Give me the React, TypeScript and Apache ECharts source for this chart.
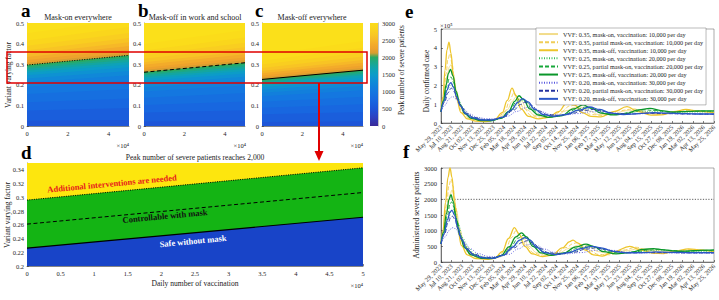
import React, { useEffect, useRef } from 'react';
import * as echarts from 'echarts';

// ---------- tick labels ----------
const dateLabels = ['May 29, 2023','Jul 10, 2023','Aug 21, 2023','Oct 02, 2023','Nov 13, 2023','Dec 25, 2023','Feb 05, 2024','Mar 18, 2024','Apr 29, 2024','Jun 10, 2024','Jul 22, 2024','Sep 02, 2024','Oct 14, 2024','Nov 25, 2024','Jan 06, 2025','Feb 17, 2025','Mar 31, 2025','May 12, 2025','Jun 23, 2025','Aug 04, 2025','Sep 15, 2025','Oct 27, 2025','Dec 08, 2025','Jan 19, 2026','Mar 02, 2026','Apr 13, 2026','May 25, 2026'];
const dayStep = 42;
const dayMax = 1092;

// ---------- heat map panels a-c (vaccination x 10^4 vs VVF) ----------
const vaccX = [0, 5];
const vvfMax = 0.5;
const cmapValues = [0, 250, 500, 625, 750, 875, 1000, 1125, 1250, 1375, 1500, 1625, 1750, 1875, 2000, 2125, 2250, 2375, 2500, 2625, 2750, 2875, 3000];
const cmapColors = ['#3b2a98','#2e40c0','#1d55d8','#1a5edc','#1867e0','#166fe0','#1477e0','#127fdc','#1088d8','#0e92d2','#0c9cc8','#0ea2b8','#14a6a0','#1ea884','#2aaa62','#d89e30','#eea22c','#f3ab2a','#f6b828','#f8c424','#f9ce20','#fad61c','#fbdc1a'];
const topColor = '#fbe01a';
// VVF where peak severe patients reaches each level 500..3000 (step 125), at 0 and 5x10^4 vaccinations
const aContour0 = [0.025,0.075,0.115,0.155,0.19,0.212,0.23,0.246,0.258,0.268,0.278,0.287,0.296,0.307,0.32,0.335,0.35,0.368,0.39,0.415,0.45];
const aContour5 = [0.029,0.087,0.133,0.18,0.22,0.246,0.267,0.285,0.299,0.311,0.322,0.333,0.343,0.356,0.371,0.388,0.406,0.427,0.452,0.481,0.52];
const bContour0 = [0.022,0.066,0.102,0.137,0.168,0.188,0.204,0.218,0.228,0.237,0.246,0.254,0.262,0.272,0.283,0.297,0.31,0.326,0.345,0.367,0.398];
const bContour5 = [0.026,0.077,0.119,0.16,0.197,0.22,0.239,0.255,0.267,0.277,0.288,0.297,0.307,0.319,0.332,0.348,0.363,0.382,0.404,0.43,0.466];
const cContour0 = [0.019,0.057,0.088,0.118,0.145,0.162,0.176,0.188,0.197,0.205,0.212,0.219,0.226,0.235,0.245,0.256,0.267,0.281,0.298,0.317,0.344];
const cContour5 = [0.023,0.068,0.106,0.142,0.174,0.194,0.211,0.226,0.236,0.246,0.254,0.263,0.271,0.282,0.294,0.307,0.32,0.337,0.358,0.38,0.413];
const colorbarMax = 3000;

// ---------- panel d: 2,000 thresholds ----------
const maskOnLine = [0.296, 0.343];
const partialLine = [0.261, 0.307];
const maskOffLine = [0.226, 0.271];
const dTop = 0.35;

// ---------- panels e/f ----------
const seriesNames = [
  'VVF: 0.35, mask-on, vaccination: 10,000 per day',
  'VVF: 0.35, partial mask-on, vaccination: 10,000 per day',
  'VVF: 0.35, mask-off, vaccination: 10,000 per day',
  'VVF: 0.25, mask-on, vaccination: 20,000 per day',
  'VVF: 0.25, partial mask-on, vaccination: 20,000 per day',
  'VVF: 0.25, mask-off, vaccination: 20,000 per day',
  'VVF: 0.20, mask-on, vaccination: 30,000 per day',
  'VVF: 0.20, partial mask-on, vaccination: 30,000 per day',
  'VVF: 0.20, mask-off, vaccination: 30,000 per day',
];
// daily confirmed cases (x10^5), [day, value]
const caseY1 = [[0,0.6],[12,1.4],[24,2.5],[34,3.0],[40,3.1],[50,2.6],[62,1.7],[75,1.0],[92,0.55],[118,0.27],[160,0.14],[200,0.13],[235,0.28],[265,0.7],[285,1.15],[300,1.4],[320,1.2],[345,0.7],[375,0.4],[420,0.28],[460,0.38],[500,0.65],[540,0.85],[560,0.85],[590,0.65],[630,0.45],[680,0.45],[740,0.65],[790,0.68],[840,0.52],[900,0.48],[960,0.6],[1020,0.65],[1092,0.55]];
const caseY2 = [[0,0.6],[10,1.4],[20,2.6],[28,3.4],[36,3.7],[45,3.1],[55,2.0],[68,1.1],[85,0.55],[110,0.25],[150,0.12],[190,0.1],[225,0.22],[255,0.6],[275,1.2],[292,1.6],[310,1.3],[330,0.8],[360,0.4],[400,0.25],[440,0.32],[480,0.6],[515,0.9],[535,0.95],[560,0.75],[600,0.45],[650,0.4],[710,0.65],[770,0.75],[820,0.55],[880,0.45],[940,0.6],[1000,0.68],[1050,0.6],[1092,0.55]];
const caseY3 = [[0,0.6],[8,1.4],[16,2.8],[24,3.9],[32,4.3],[40,3.7],[50,2.4],[62,1.3],[80,0.55],[105,0.22],[140,0.1],[180,0.08],[215,0.18],[245,0.55],[265,1.2],[284,1.85],[300,1.45],[320,0.75],[350,0.35],[390,0.22],[430,0.3],[470,0.6],[500,1.0],[516,1.13],[535,0.95],[565,0.55],[600,0.35],[640,0.33],[690,0.6],[744,0.87],[790,0.6],[840,0.42],[880,0.43],[930,0.6],[980,0.72],[1030,0.62],[1092,0.55]];
const caseG1 = [[0,0.6],[14,1.2],[28,1.8],[38,2.02],[44,2.05],[55,1.8],[68,1.35],[85,0.85],[105,0.5],[135,0.28],[175,0.17],[215,0.17],[255,0.32],[285,0.68],[310,1.05],[325,1.2],[350,1.05],[380,0.68],[415,0.42],[460,0.35],[510,0.48],[560,0.7],[600,0.78],[640,0.66],[690,0.5],[740,0.5],[800,0.62],[860,0.62],[920,0.56],[990,0.58],[1092,0.6]];
const caseG2 = [[0,0.6],[12,1.2],[24,2.0],[34,2.4],[40,2.45],[50,2.15],[62,1.55],[78,0.95],[98,0.52],[125,0.27],[165,0.15],[205,0.14],[245,0.28],[275,0.65],[300,1.1],[318,1.35],[340,1.15],[365,0.72],[400,0.42],[440,0.32],[490,0.42],[540,0.72],[580,0.85],[615,0.72],[660,0.5],[710,0.46],[760,0.58],[810,0.7],[860,0.66],[920,0.57],[980,0.6],[1040,0.63],[1092,0.62]];
const caseG3 = [[0,0.6],[10,1.2],[20,2.0],[30,2.65],[38,2.85],[48,2.5],[60,1.7],[75,1.0],[95,0.5],[120,0.25],[160,0.13],[200,0.12],[240,0.25],[270,0.6],[295,1.15],[312,1.45],[330,1.25],[355,0.75],[390,0.42],[430,0.3],[480,0.38],[530,0.75],[568,0.96],[600,0.8],[640,0.52],[690,0.43],[740,0.5],[790,0.7],[836,0.78],[880,0.66],[930,0.58],[990,0.62],[1040,0.65],[1092,0.65]];
const caseB1 = [[0,0.6],[16,0.95],[32,1.28],[44,1.39],[48,1.4],[60,1.28],[75,1.0],[92,0.72],[115,0.47],[145,0.3],[185,0.22],[225,0.23],[265,0.36],[305,0.62],[335,0.8],[350,0.85],[375,0.76],[405,0.58],[440,0.45],[490,0.42],[545,0.5],[600,0.6],[640,0.6],[690,0.53],[750,0.48],[820,0.5],[900,0.5],[980,0.48],[1092,0.46]];
const caseB2 = [[0,0.6],[14,1.1],[28,1.6],[38,1.82],[42,1.85],[54,1.65],[66,1.25],[82,0.85],[102,0.52],[130,0.3],[170,0.19],[210,0.19],[250,0.32],[290,0.68],[318,0.98],[335,1.1],[360,0.95],[390,0.65],[425,0.45],[470,0.4],[520,0.5],[570,0.66],[610,0.72],[650,0.62],[700,0.5],[760,0.48],[830,0.52],[900,0.5],[980,0.48],[1092,0.47]];
const caseB3 = [[0,0.6],[12,1.15],[24,1.75],[34,2.08],[40,2.15],[50,1.9],[62,1.4],[78,0.9],[98,0.5],[125,0.28],[165,0.16],[205,0.16],[245,0.3],[280,0.68],[308,1.1],[326,1.3],[348,1.12],[375,0.72],[410,0.45],[450,0.36],[500,0.45],[550,0.68],[595,0.85],[635,0.72],[680,0.52],[730,0.45],[790,0.5],[850,0.55],[910,0.52],[980,0.5],[1040,0.48],[1092,0.48]];
// administered severe patients, [day, value]
const sevY1 = [[0,580],[12,980],[26,1700],[36,2150],[44,2300],[52,2150],[62,1650],[75,1050],[92,580],[118,290],[160,150],[200,120],[238,170],[270,420],[292,740],[310,880],[328,780],[352,500],[382,300],[420,210],[465,260],[515,440],[550,540],[570,560],[595,480],[630,330],[670,270],[730,350],[800,430],[850,380],[910,320],[970,350],[1030,380],[1092,350]];
const sevY2 = [[0,580],[10,1000],[22,1800],[32,2450],[40,2650],[48,2420],[58,1800],[70,1100],[88,560],[112,260],[150,130],[190,100],[225,140],[258,380],[282,780],[300,1000],[318,850],[342,500],[372,280],[412,190],[455,240],[500,460],[530,590],[545,620],[565,540],[595,360],[630,240],[675,230],[730,380],[780,470],[830,360],[880,300],[940,340],[1000,400],[1050,380],[1092,340]];
const sevY3 = [[0,580],[8,1000],[18,1900],[28,2700],[36,3000],[44,2700],[54,1900],[66,1100],[82,520],[105,230],[140,110],[180,85],[215,120],[245,330],[270,750],[294,1100],[312,900],[335,500],[365,260],[405,170],[445,220],[485,450],[515,650],[528,700],[548,600],[578,380],[610,230],[645,190],[690,330],[755,500],[800,380],[850,280],[890,270],[940,360],[990,420],[1040,380],[1092,330]];
const sevG1 = [[0,580],[14,920],[30,1400],[42,1650],[48,1680],[58,1550],[70,1200],[86,780],[108,450],[136,250],[176,145],[216,130],[256,230],[290,480],[318,680],[336,760],[358,690],[385,480],[420,310],[465,250],[520,310],[570,430],[610,470],[645,430],[690,330],[740,300],[800,340],[850,370],[880,380],[930,360],[1000,340],[1092,350]];
const sevG2 = [[0,580],[12,950],[26,1500],[36,1850],[43,1920],[52,1750],[64,1300],[80,820],[100,460],[128,240],[168,130],[208,115],[248,220],[280,500],[308,760],[328,850],[348,750],[375,500],[410,310],[450,230],[500,290],[550,450],[595,520],[630,460],[670,330],[720,280],[780,330],[830,380],[870,400],[920,370],[980,340],[1040,360],[1092,370]];
const sevG3 = [[0,580],[10,950],[22,1550],[32,2000],[40,2150],[48,1950],[60,1400],[75,850],[95,450],[120,230],[160,120],[200,105],[240,200],[272,480],[300,800],[322,930],[342,800],[368,500],[400,290],[440,210],[490,280],[540,480],[580,570],[612,490],[650,330],[700,260],[760,310],[810,400],[850,430],[890,390],[950,340],[1010,360],[1060,380],[1092,390]];
const sevB1 = [[0,580],[16,800],[32,1000],[44,1090],[50,1100],[62,1030],[76,850],[94,620],[118,420],[148,270],[188,180],[228,165],[270,240],[310,420],[340,540],[360,570],[385,520],[415,410],[450,310],[500,260],[560,300],[615,370],[650,400],[690,370],[740,310],[810,290],[890,290],[980,285],[1092,280]];
const sevB2 = [[0,580],[14,880],[28,1250],[40,1440],[46,1460],[56,1360],[68,1050],[84,700],[104,430],[132,250],[172,150],[212,140],[252,230],[292,450],[324,620],[345,680],[368,610],[395,440],[430,300],[475,250],[530,310],[580,410],[620,450],[655,410],[700,330],[760,290],[830,300],[900,300],[980,290],[1092,290]];
const sevB3 = [[0,580],[12,900],[26,1350],[36,1600],[44,1650],[54,1500],[66,1120],[82,720],[102,420],[130,230],[170,130],[210,120],[250,220],[285,470],[315,700],[336,780],[356,700],[382,470],[415,300],[460,240],[510,300],[560,430],[605,500],[640,450],[690,340],[740,290],[800,300],[860,320],[920,310],[990,300],[1050,300],[1092,300]];
const severeThreshold = 2000;

const caseData = [caseY1, caseY2, caseY3, caseG1, caseG2, caseG3, caseB1, caseB2, caseB3];
const sevData = [sevY1, sevY2, sevY3, sevG1, sevG2, sevG3, sevB1, sevB2, sevB3];

const lineStyles = [
  { color: '#f2dc8a', width: 0.9, type: 'solid' },
  { color: '#f0cd58', width: 0.9, type: [4, 2] },
  { color: '#edc52c', width: 1.3, type: 'solid' },
  { color: '#3cbf5c', width: 0.9, type: [1, 1.5] },
  { color: '#17a83a', width: 0.9, type: [4, 2] },
  { color: '#0a962a', width: 1.3, type: 'solid' },
  { color: '#5a5ae0', width: 0.9, type: [1, 1.5] },
  { color: '#24329e', width: 0.9, type: [4, 2] },
  { color: '#2a56c8', width: 1.3, type: 'solid' },
];

const FONT = 'Liberation Serif';
const ink = '#262626';

function T(text: string, x: number, y: number, o: any = {}) {
  return {
    type: 'text', x, y, rotation: o.rot || 0, z: 100, silent: true,
    style: {
      text, fontFamily: FONT, fontSize: o.size || 7.5, fontWeight: o.bold ? 'bold' : 'normal',
      fill: o.color || '#222', align: o.align || 'center', verticalAlign: o.va || 'middle',
    },
  };
}

const axLine = { lineStyle: { color: '#333', width: 0.6 } };
const axTick = { inside: true, length: 2, lineStyle: { color: '#333', width: 0.6 } };
const lab = { fontFamily: FONT, fontSize: 6.5, color: ink };
const plain = (v: number) => String(v);

function buildOption() {
  const grid = [
    { left: 27, top: 23, width: 102, height: 103 },
    { left: 144, top: 23, width: 101, height: 103 },
    { left: 262, top: 23, width: 101, height: 103 },
    { left: 370, top: 23, width: 8, height: 103 },
    { left: 27, top: 163, width: 336, height: 103 },
    { left: 441, top: 29, width: 273, height: 94, show: true, borderColor: '#555', borderWidth: 0.5 },
    { left: 441, top: 168, width: 273, height: 94, show: true, borderColor: '#555', borderWidth: 0.5 },
  ];
  const heatX = (i: number) => ({
    gridIndex: i, type: 'value', min: 0, max: 5, interval: 2,
    axisLine: axLine, axisTick: axTick, splitLine: { show: false },
    axisLabel: { ...lab, margin: 4, showMaxLabel: false, formatter: plain },
  });
  const heatY = (i: number) => ({
    gridIndex: i, type: 'value', min: 0, max: vvfMax, interval: 0.1,
    axisLine: axLine, axisTick: axTick, splitLine: { show: false },
    axisLabel: { ...lab, margin: 3, formatter: (v: number) => String(+v.toFixed(1)) },
  });
  const dateX = (i: number) => ({
    gridIndex: i, type: 'value', min: 0, max: dayMax, interval: dayStep,
    axisLine: axLine, axisTick: axTick, splitLine: { show: false },
    axisLabel: { ...lab, fontSize: 6.3, rotate: 45, margin: 3, formatter: (v: number) => dateLabels[Math.round(v / dayStep)] ?? '' },
  });
  const xAxis = [
    heatX(0), heatX(1), heatX(2),
    { gridIndex: 3, type: 'category', data: [''], show: false },
    { gridIndex: 4, type: 'value', min: 0, max: 5, interval: 0.5, axisLine: axLine, axisTick: axTick, splitLine: { show: false },
      axisLabel: { ...lab, margin: 4, formatter: (v: number) => String(+v.toFixed(1)) } },
    dateX(5), dateX(6),
  ];
  const yAxis = [
    heatY(0), heatY(1), heatY(2),
    { gridIndex: 3, type: 'value', min: 0, max: colorbarMax, interval: 500, position: 'right',
      axisLine: { show: true, lineStyle: { color: '#888', width: 0.5 } }, axisTick: { inside: true, length: 2, lineStyle: { color: '#555', width: 0.5 } }, splitLine: { show: false },
      axisLabel: { ...lab, margin: 4, formatter: plain } },
    { gridIndex: 4, type: 'value', min: 0.2, max: dTop, interval: 0.02, axisLine: axLine, axisTick: axTick, splitLine: { show: false },
      axisLabel: { ...lab, margin: 3, showMaxLabel: false, formatter: (v: number) => String(+v.toFixed(2)) } },
    { gridIndex: 5, type: 'value', min: 0, max: 5, interval: 1, axisLine: axLine, axisTick: axTick, splitLine: { show: false }, axisLabel: { ...lab, margin: 4, formatter: plain } },
    { gridIndex: 6, type: 'value', min: 0, max: 3000, interval: 500, axisLine: axLine, axisTick: axTick, splitLine: { show: false }, axisLabel: { ...lab, margin: 4, formatter: plain } },
  ];

  const series: any[] = [];
  const base = { type: 'line', symbol: 'none', showSymbol: false, silent: true, animation: false };
  const panels = [
    { c0: aContour0, c5: aContour5, line: maskOnLine, lt: [1, 1.5] },
    { c0: bContour0, c5: bContour5, line: partialLine, lt: [4, 2.5] },
    { c0: cContour0, c5: cContour5, line: maskOffLine, lt: 'solid' },
  ];
  panels.forEach((p, i) => {
    series.push({ ...base, xAxisIndex: i, yAxisIndex: i, data: vaccX.map((x) => [x, vvfMax]),
      lineStyle: { width: 0 }, areaStyle: { color: topColor, opacity: 1, origin: 'start' } });
    for (let k = p.c0.length - 1; k >= 0; k--) {
      series.push({ ...base, xAxisIndex: i, yAxisIndex: i, data: [[vaccX[0], p.c0[k]], [vaccX[1], p.c5[k]]],
        lineStyle: { width: 0 }, areaStyle: { color: cmapColors[k + 2], opacity: 1, origin: 'start' } });
    }
    series.push({ ...base, xAxisIndex: i, yAxisIndex: i, data: [[vaccX[0], p.line[0]], [vaccX[1], p.line[1]]],
      lineStyle: { color: '#000', width: 1, type: p.lt } });
  });

  // colorbar
  series.push({
    type: 'bar', xAxisIndex: 3, yAxisIndex: 3, data: [colorbarMax], barWidth: '100%', silent: true,
    itemStyle: { color: new echarts.graphic.LinearGradient(0, 1, 0, 0, cmapValues.map((v, i) => ({ offset: v / colorbarMax, color: cmapColors[i] }))) },
  });

  // panel d
  series.push({ ...base, xAxisIndex: 4, yAxisIndex: 4, data: vaccX.map((x) => [x, dTop]), lineStyle: { width: 0 }, areaStyle: { color: '#fde60e', opacity: 1, origin: 'start' } });
  series.push({ ...base, xAxisIndex: 4, yAxisIndex: 4, data: vaccX.map((x, j) => [x, maskOnLine[j]]), lineStyle: { color: '#000', width: 1, type: [1, 1.3] }, areaStyle: { color: '#14b414', opacity: 1, origin: 'start' } });
  series.push({ ...base, xAxisIndex: 4, yAxisIndex: 4, data: vaccX.map((x, j) => [x, maskOffLine[j]]), lineStyle: { color: '#000', width: 1.1 }, areaStyle: { color: '#1844c8', opacity: 1, origin: 'start' } });
  series.push({ ...base, xAxisIndex: 4, yAxisIndex: 4, data: vaccX.map((x, j) => [x, partialLine[j]]), lineStyle: { color: '#000', width: 1, type: [4, 2.5] } });

  // panels e, f
  seriesNames.forEach((name, i) => {
    series.push({ ...base, name, xAxisIndex: 5, yAxisIndex: 5, data: caseData[i], smooth: 0.4, smoothMonotone: 'x', lineStyle: lineStyles[i], itemStyle: { color: lineStyles[i].color } });
  });
  series.push({ ...base, xAxisIndex: 6, yAxisIndex: 6, data: [[0, severeThreshold], [dayMax, severeThreshold]], lineStyle: { color: '#333', width: 0.8, type: [1.2, 1.5] } });
  seriesNames.forEach((name, i) => {
    series.push({ ...base, name, xAxisIndex: 6, yAxisIndex: 6, data: sevData[i], smooth: 0.4, smoothMonotone: 'x', lineStyle: lineStyles[i], itemStyle: { color: lineStyles[i].color } });
  });

  const tilt = -0.094;
  const L = { size: 19, bold: true, align: 'left', color: '#000' };
  const graphic = [
    T('a', 21, 10, L),
    T('b', 138, 10, L),
    T('c', 255, 10, L),
    T('d', 21, 152, L),
    T('e', 405, 11, L),
    T('f', 403, 151, L),
    T('Mask-on everywhere', 78, 17, { size: 8 }),
    T('Mask-off in work and school', 195, 17, { size: 8 }),
    T('Mask-off everywhere', 312, 17, { size: 8 }),
    T('Variant varying factor', 8, 75, { size: 7.5, rot: Math.PI / 2 }),
    T('Peak number of severe patients', 402, 70, { size: 7.2, rot: Math.PI / 2 }),
    T('×10⁴', 129, 145, { size: 6.5, align: 'right' }),
    T('×10⁴', 246, 145, { size: 6.5, align: 'right' }),
    T('×10⁴', 363, 145, { size: 6.5, align: 'right' }),
    T('Peak number of severe patients reaches 2,000', 195, 157, { size: 7.6 }),
    T('Daily number of vaccination', 195, 283, { size: 7.6 }),
    T('Variant varying factor', 7, 215, { size: 7.5, rot: Math.PI / 2 }),
    T('×10⁴', 363, 285, { size: 6.5, align: 'right' }),
    T('Additional interventions are needed', 112, 183.5, { size: 8.5, bold: true, color: '#e8201c', rot: -tilt }),
    T('Controllable with mask', 165, 216, { size: 8.5, bold: true, color: '#111', rot: -tilt }),
    T('Safe without mask', 193, 241, { size: 8.5, bold: true, color: '#fff', rot: -tilt }),
    T('Daily confirmed case', 426, 81, { size: 7.3, rot: Math.PI / 2 }),
    T('×10⁵', 440, 25, { size: 6.5, align: 'left' }),
    T('Administered severe patients', 416, 215, { size: 7.5, rot: Math.PI / 2 }),
    { type: 'rect', z: 100, silent: true, shape: { x: 7, y: 52, width: 360, height: 31 }, style: { fill: 'none', stroke: '#e00000', lineWidth: 1.5 } },
    { type: 'line', z: 100, silent: true, shape: { x1: 319, y1: 83, x2: 319, y2: 152 }, style: { stroke: '#e00000', lineWidth: 2 } },
    { type: 'polygon', z: 100, silent: true, shape: { points: [[314.5, 151], [323.5, 151], [319, 161]] }, style: { fill: '#e00000' } },
  ];

  return {
    animation: false,
    backgroundColor: '#fff',
    textStyle: { fontFamily: FONT },
    grid, xAxis, yAxis, series, graphic,
    legend: {
      data: seriesNames, orient: 'vertical', left: 536, top: 28, itemWidth: 19, itemHeight: 7, itemGap: 0,
      padding: [2, 3, 2, 2], backgroundColor: '#fff', borderColor: '#777', borderWidth: 0.5,
      itemStyle: { opacity: 0 },
      textStyle: { fontFamily: FONT, fontSize: 6.2, lineHeight: 8.1, color: ink }, selectedMode: false,
    },
  };
}

export default function App() {
  const ref = useRef<HTMLDivElement>(null);
  useEffect(() => {
    document.body.style.margin = '0';
    const chart = echarts.init(ref.current!, undefined, { renderer: 'svg' });
    chart.setOption(buildOption() as any);
    return () => chart.dispose();
  }, []);
  return <div ref={ref} style={{ width: 719, height: 300 }} />;
}
